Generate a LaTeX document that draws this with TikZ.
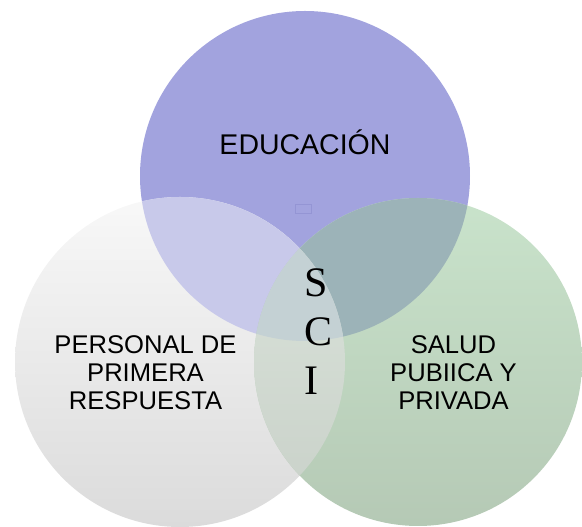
\documentclass[tikz,border=0pt]{standalone}
\usepackage{fontspec}
\setmainfont{Liberation Sans}
\newfontfamily\scifont{Liberation Serif}
\definecolor{topcol}{HTML}{A2A3DE}
\definecolor{lefttop}{HTML}{C8C9EA}
\definecolor{righttop}{HTML}{9CB3B8}
\definecolor{centercol}{HTML}{C4D1D4}
\definecolor{lrtop}{HTML}{DCE5DC}
\definecolor{lrbot}{HTML}{C8D0C8}
\definecolor{lefthi}{HTML}{F8F8F8}
\definecolor{leftlo}{HTML}{DBDBDB}
\definecolor{righthi}{HTML}{C9E3CB}
\definecolor{rightlo}{HTML}{B5C9B5}
\definecolor{boxcol}{HTML}{9495D4}
\tikzset{
  lbl/.style={font=\fontsize{25.6}{28}\selectfont, align=center, text=black, inner sep=0pt},
  toplbl/.style={font=\fontsize{28.5}{32}\selectfont, text=black, inner sep=0pt},
  scilbl/.style={font=\scifont\fontsize{42}{48}\selectfont, text=black, inner sep=0pt, anchor=base west}
}
\begin{document}
\begin{tikzpicture}[x=1pt,y=1pt]
\useasboundingbox (0,0) rectangle (582,527);
\def\topcirc{(305,351) circle (165pt)}
\def\leftcirc{(180,165) circle (165pt)}
\def\rightcirc{(418,165) circle (164pt)}
% base circles
\fill[topcol] \topcirc;
\shade[top color=lefthi, bottom color=leftlo] \leftcirc;
\shade[top color=righthi, bottom color=rightlo] \rightcirc;
% overlaps
\begin{scope}
  \clip \leftcirc;
  \fill[lefttop] \topcirc;
\end{scope}
\begin{scope}
  \clip \rightcirc;
  \fill[righttop] \topcirc;
\end{scope}
\begin{scope}
  \clip \rightcirc;
  \shade[top color=lrtop, bottom color=lrbot] \leftcirc;
\end{scope}
\begin{scope}
  \clip \rightcirc;
  \clip \leftcirc;
  \fill[centercol] \topcirc;
\end{scope}
% faint small box
\node[draw=boxcol, line width=0.6pt, minimum width=16pt, minimum height=9pt, inner sep=0pt] (box) at (303,318) {};
% labels
\node[toplbl] (edu) at (305,385) {EDUCACIÓN};
\node[lbl] (per) at (145.5,154) {PERSONAL DE\\PRIMERA\\RESPUESTA};
\node[lbl] (sal) at (453.5,154) {SALUD\\PUBIICA Y\\PRIVADA};
\node[scilbl] (s) at (304,230) {S};
\node[scilbl] (c) at (304,181) {C};
\node[scilbl] (i) at (304,132) {I};
\end{tikzpicture}
\end{document}
